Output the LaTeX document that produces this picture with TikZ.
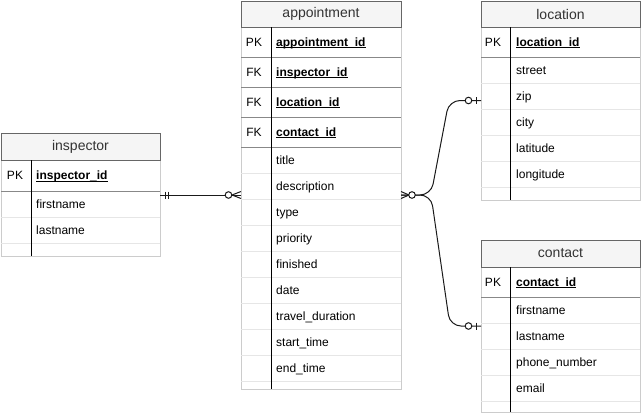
\documentclass[tikz,border=0pt]{standalone}
\usepackage{fontspec}
\setmainfont{Liberation Sans}
\usetikzlibrary{calc}
\definecolor{hdrfill}{HTML}{F5F5F5}
\definecolor{hdrline}{HTML}{666666}
\definecolor{boxline}{HTML}{CCCCCC}
\definecolor{rowline}{HTML}{E6E6E6}
\definecolor{keyline}{HTML}{888888}
\definecolor{hdrtext}{HTML}{333333}
\definecolor{edgeink}{HTML}{1A1A1A}

% bold key name with a tight underline
\newcommand\ulkey[1]{\setbox0\hbox{\bfseries #1}\rlap{\rule[-2pt]{\wd0}{0.9pt}}\box0}

\begin{document}
\begin{tikzpicture}[x=1pt,y=-1pt,
  tablebox/.style={draw=boxline, fill=white, line width=1pt, anchor=north west, inner sep=0pt, outer sep=0pt},
  headbox/.style={draw=hdrline, fill=hdrfill, line width=1pt, anchor=north west, inner sep=0pt, outer sep=0pt,
    font=\fontsize{14}{16}\selectfont, text=hdrtext},
  rowsep/.style={draw=rowline, line width=1pt},
  keysep/.style={draw=keyline, line width=1pt},
  divider/.style={draw=black, line width=1pt},
  keytag/.style={anchor=center, inner sep=0pt, text height=8.6pt, text depth=0pt, font=\fontsize{12}{14}\selectfont},
  fieldtxt/.style={anchor=west, inner sep=0pt, text height=8.6pt, text depth=0pt, font=\fontsize{12}{14}\selectfont},
  relation/.style={draw=edgeink, line width=1pt},
  endring/.style={draw=edgeink, line width=1pt, fill=white},
]
\useasboundingbox (0,0) rectangle (641,413);

% ---------------- inspector ----------------
\node[tablebox, minimum width=159pt, minimum height=123pt] (insp) at (1,133) {};
\foreach \y in {217,243} \draw[rowsep] (1,\y) -- (160,\y);
\draw[keysep] (1,191) -- (160,191);
\node[headbox, minimum width=159pt, minimum height=27pt] (insp-h) at (1,133) {inspector};
\draw[divider] (31,160) -- (31,256);
\node[keytag] (insp-pk) at (15,175.5) {PK};
\node[fieldtxt] (insp-k) at (36,175.5) {\ulkey{inspector\_id}};
\node[fieldtxt] (insp-f0) at (36,204) {firstname};
\node[fieldtxt] (insp-f1) at (36,230) {lastname};

% ---------------- appointment ----------------
\node[tablebox, minimum width=160pt, minimum height=388pt] (appt) at (241,1) {};
\foreach \k in {0,...,8} \draw[rowsep] (241,173+26*\k) -- (401,173+26*\k);
\foreach \y in {57,87,117,147} \draw[keysep] (241,\y) -- (401,\y);
\node[headbox, minimum width=160pt, minimum height=26pt] (appt-h) at (241,1) {appointment};
\draw[divider] (271,27) -- (271,389);
\node[keytag] (appt-pk) at (254,42) {PK};
\node[keytag] (appt-fk1) at (254,72) {FK};
\node[keytag] (appt-fk2) at (254,102) {FK};
\node[keytag] (appt-fk3) at (254,132) {FK};
\node[fieldtxt] (appt-k0) at (276,42) {\ulkey{appointment\_id}};
\node[fieldtxt] (appt-k1) at (276,72) {\ulkey{inspector\_id}};
\node[fieldtxt] (appt-k2) at (276,102) {\ulkey{location\_id}};
\node[fieldtxt] (appt-k3) at (276,132) {\ulkey{contact\_id}};
\foreach \t [count=\i from 0] in {title,description,type,priority,finished,date,travel\_duration,start\_time,end\_time}
  \node[fieldtxt] (appt-f\i) at (276,160+26*\i) {\t};

% ---------------- location ----------------
\node[tablebox, minimum width=159pt, minimum height=199pt] (loc) at (481,1) {};
\foreach \k in {0,...,4} \draw[rowsep] (481,83+26*\k) -- (640,83+26*\k);
\draw[keysep] (481,57) -- (640,57);
\node[headbox, minimum width=159pt, minimum height=26pt] (loc-h) at (481,1) {location};
\draw[divider] (510,27) -- (510,200);
\node[keytag] (loc-pk) at (493,42) {PK};
\node[fieldtxt] (loc-k) at (516,42) {\ulkey{location\_id}};
\foreach \t [count=\i from 0] in {street,zip,city,latitude,longitude}
  \node[fieldtxt] (loc-f\i) at (516,70+26*\i) {\t};

% ---------------- contact ----------------
\node[tablebox, minimum width=159pt, minimum height=172pt] (cont) at (481,240) {};
\foreach \k in {0,...,3} \draw[rowsep] (481,323+26*\k) -- (640,323+26*\k);
\draw[keysep] (481,297) -- (640,297);
\node[headbox, minimum width=159pt, minimum height=27pt] (cont-h) at (481,240) {contact};
\draw[divider] (510,267) -- (510,412);
\node[keytag] (cont-pk) at (493,282) {PK};
\node[fieldtxt] (cont-k) at (516,282) {\ulkey{contact\_id}};
\foreach \t [count=\i from 0] in {firstname,lastname,phone\_number,email}
  \node[fieldtxt] (cont-f\i) at (516,310+26*\i) {\t};

% ---------------- relations ----------------
% inspector (one and only one) -- appointment (zero or many)
\draw[relation] (insp.east |- appt.west) -- (appt.west);
\foreach \dx in {5,8.5}
  \draw[relation] ([xshift=\dx pt]insp.east |- appt.west) ++(0,-3.5) -- ++(0,7);
\draw[relation] ([xshift=-9pt]appt.west) -- ([yshift=-3.5pt]appt.west)
                ([xshift=-9pt]appt.west) -- ([yshift=3.5pt]appt.west);
\draw[endring] ([xshift=-12.5pt]appt.west) circle (3.3pt);

% appointment (zero or many) -- location (zero or one)
\draw[relation, rounded corners=11pt] (appt.east) -- ++(30,0) -- ($(loc.west)+(-32,0)$) -- (loc.west);
% appointment (zero or many) -- contact (zero or one)
\draw[relation, rounded corners=11pt] (appt.east) -- ++(30,0) -- ($(cont.west)+(-31,0)$) -- (cont.west);
\draw[relation] ([xshift=8pt]appt.east) -- ([yshift=-3.5pt]appt.east)
                ([xshift=8pt]appt.east) -- ([yshift=3.5pt]appt.east);
\draw[endring] ([xshift=11pt]appt.east) circle (3.3pt);
\foreach \tbl in {loc,cont}{
  \draw[relation] ([xshift=-5pt]\tbl.west) ++(0,-3.5) -- ++(0,7);
  \draw[endring] ([xshift=-12.5pt]\tbl.west) circle (3.3pt);
}
\end{tikzpicture}
\end{document}
